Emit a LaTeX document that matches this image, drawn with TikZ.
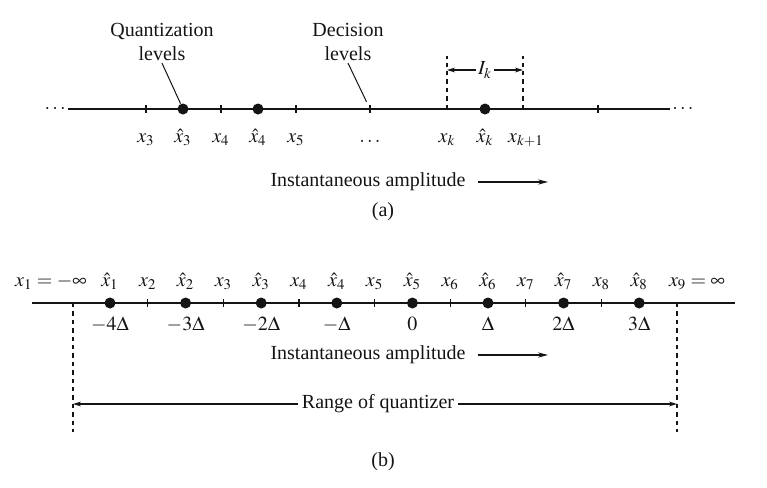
\documentclass[tikz,border=0pt]{standalone}
\usepackage{mathptmx}
\usepackage{fontspec}
\setmainfont{Liberation Serif}
\usetikzlibrary{positioning,arrows.meta,calc}
\definecolor{InkDark}{HTML}{141414}
\tikzset{
  axisline/.style={line width=1pt, draw=InkDark},
  tickmark/.style={line width=0.6pt, draw=InkDark},
  qdot/.style={circle, fill=InkDark, inner sep=0pt, minimum size=5.5pt},
  guide/.style={line width=0.7pt, draw=InkDark, dash pattern=on 2.2pt off 2pt},
  lbl/.style={font=\normalsize, text=InkDark, inner sep=1pt},
  leader/.style={line width=0.5pt, draw=InkDark},
  amparrow/.style={-{Stealth[length=5pt,width=2.6pt]}, line width=0.6pt, draw=InkDark},
  spanarrow/.style={-{Stealth[length=4pt,width=2.4pt]}, line width=0.6pt, draw=InkDark}
}

\begin{document}
\begin{tikzpicture}[x=0.5pt,y=-0.5pt]
  \useasboundingbox (0,0) rectangle (767,488);

  % (a) general quantizer
  \coordinate (aL) at (68,109);
  \coordinate (aR) at (670,109);
  \draw[axisline] (aL) -- (aR);
  \node[lbl, anchor=east] (aldots) at (aL) {$\cdots$};
  \node[lbl, anchor=west] (ardots) at (aR) {$\cdots$};

  \foreach \px in {146,221,296,370,598} {
      \draw[tickmark] (\px,105) -- (\px,113);
    }
  \coordinate (ak) at (447,109);
  \coordinate (akk) at (523,109);
  \coordinate (aktop) at (447,56);
  \coordinate (akktop) at (523,56);
  \draw[guide] (ak) -- (aktop);
  \draw[guide] (akk) -- (akktop);

  \node[qdot] (aq3) at (183,109) {};
  \node[qdot] (aq4) at (258,109) {};
  \node[qdot] (aqk) at (485,109) {};

  \foreach \px/\nm/\txt in {146/x3/$x_3$,183/h3/$\hat{x}_3$,221/x4/$x_4$,
      258/h4/$\hat{x}_4$,296/x5/$x_5$,370/dd/$\dots$,447/xk/$x_k$,
      485/hk/$\hat{x}_k$,526/xkk/$x_{k+1}$} {
      \node[lbl, anchor=base] (al\nm) at (\px,142) {\txt};
    }

  \node[lbl, align=center] (qlev) at (162,42) {Quantization\\levels};
  \node[lbl, align=center] (dlev) at (348,42) {Decision\\levels};
  \draw[leader] (qlev.south) -- (aq3);
  \draw[leader, shorten >=4pt] (dlev.south) -- (370,109);

  \node[lbl] (ik) at (485,70) {$I_k$};
  \draw[spanarrow] (ik.west) -- (ik.west -| aktop);
  \draw[spanarrow] (ik.east) -- (ik.east -| akktop);

  \node[lbl] (aamp) at (368,182) {Instantaneous amplitude};
  \coordinate (aampend) at (548,182);
  \draw[amparrow] ([xshift=5pt]aamp.east) -- (aampend);
  \node[lbl] (acap) at (383,212) {(a)};

  % (b) uniform quantizer
  \coordinate (bL) at (32,303);
  \coordinate (bR) at (735,303);
  \draw[axisline] (bL) -- (bR);

  \foreach \i/\val [evaluate=\i as \px using 110+75.6*(\i-1)] in
      {1/-4\Delta,2/-3\Delta,3/-2\Delta,4/-\Delta,5/0,6/\Delta,7/2\Delta,8/3\Delta} {
      \node[qdot] (bq\i) at (\px,303) {};
      \node[lbl, anchor=base] (bhat\i) at (\px,286) {$\hat{x}_{\i}$};
      \node[lbl, anchor=base] (bval\i) at (\px,330) {$\val$};
    }
  \foreach \i [evaluate=\i as \px using 110+75.6*(\i-1.5)] in {2,...,8} {
      \draw[tickmark] (\px,299) -- (\px,307);
      \node[lbl, anchor=base] (bx\i) at (\px,286) {$x_{\i}$};
    }
  \node[lbl, anchor=base] (bx1) at (51,286) {$x_1 = -\infty$};
  \node[lbl, anchor=base] (bx9) at (697,286) {$x_9 = \infty$};

  \coordinate (blo) at (73,303);
  \coordinate (bhi) at (677,303);
  \coordinate (blobot) at (73,432);
  \coordinate (bhibot) at (677,432);
  \draw[guide] (blo) -- (blobot);
  \draw[guide] (bhi) -- (bhibot);

  \node[lbl] (bamp) at (368,355) {Instantaneous amplitude};
  \coordinate (bampend) at (548,355);
  \draw[amparrow] ([xshift=5pt]bamp.east) -- (bampend);

  \node[lbl, fill=white, inner xsep=2pt] (rng) at (378,404) {Range of quantizer};
  \draw[spanarrow] (rng.west) -- (rng.west -| blo);
  \draw[spanarrow] (rng.east) -- (rng.east -| bhi);

  \node[lbl] (bcap) at (383,462) {(b)};
\end{tikzpicture}
\end{document}
